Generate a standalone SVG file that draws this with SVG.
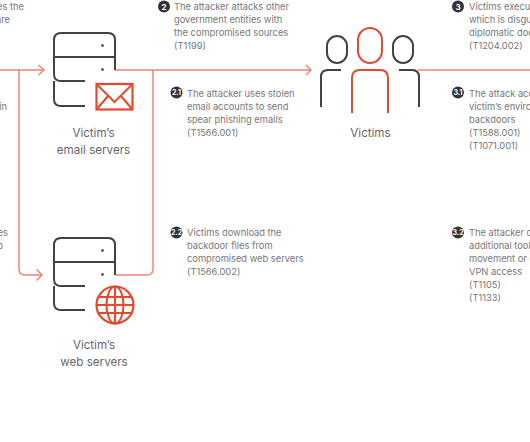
<svg xmlns="http://www.w3.org/2000/svg" width="530" height="442" viewBox="0 0 530 442">
<style>
.t{font-family:"Inter","Liberation Sans",sans-serif;font-size:9.300px;fill:#77777a}
.e{text-anchor:end}
.l{font-family:"Inter","Liberation Sans",sans-serif;font-size:11.600px;fill:#68686b;text-anchor:middle}
.b{fill:#333336}
.n{font-family:"Inter","Liberation Sans",sans-serif;font-size:8px;font-weight:700;fill:#fff;text-anchor:middle}
.s{font-size:7px}
.d{fill:none;stroke:#434345;stroke-width:2;stroke-linecap:butt}
.r{fill:none;stroke:#e4482d;stroke-width:2}
.c{fill:none;stroke:#ee8575;stroke-width:1.500}
</style>
<rect width="530" height="442" fill="#fff"/>
<g id="connectors">
<path class="c" d="M0 70H44M38.500 65L44 70L38.500 75"/>
<path class="c" d="M19 70V269Q19 275 25 275H42M36.500 269.500L42 275L36.500 280.500"/>
<path class="c" d="M115 70H311M306 65L311 70L306 75"/>
<path class="c" d="M153 70V269Q153 275 147 275H115"/>
<path class="c" d="M418 70H530"/>
</g>
<g id="email-servers">
<path class="d" d="M85 81H61Q54 81 54 74V40Q54 33 61 33H108Q115 33 115 40V70M54 57H115M54 81V99Q54 106 61 106H85"/>
<circle cx="102.500" cy="45.500" r="1.300" fill="#333"/><circle cx="102.500" cy="69.500" r="1.300" fill="#333"/>
<rect x="96.500" y="84" width="36" height="25.500" fill="#fff" stroke="#e4482d" stroke-width="2.200"/>
<path class="r" d="M96.500 84L114.500 102L132.500 84M96.500 109.500L108 96M132.500 109.500L121 96"/>
<text class="l" x="93.500" y="137">Victim’s</text><text class="l" x="93.500" y="154">email servers</text>
</g>
<g id="web-servers">
<path class="d" d="M85 286H61Q54 286 54 279V245Q54 238 61 238H108Q115 238 115 245V275M54 262H115M54 286V303Q54 310 61 310H85"/>
<circle cx="102.500" cy="250.500" r="1.300" fill="#333"/><circle cx="102.500" cy="274.500" r="1.300" fill="#333"/>
<circle cx="115" cy="305" r="18.500" fill="#fff" stroke="#e4482d" stroke-width="2.200"/>
<ellipse class="r" cx="115" cy="305" rx="8.500" ry="18.500"/>
<path class="r" d="M115 286.500V323.500M98 297H132M96.500 305H133.500M98 313H132"/>
<text class="l" x="94" y="349">Victim’s</text><text class="l" x="94" y="366">web servers</text>
</g>
<g id="victims">
<rect x="327" y="36" width="20" height="27" rx="10" class="d"/>
<rect x="393" y="36" width="20" height="27" rx="10" class="d"/>
<rect x="358" y="28" width="24" height="35" rx="12" class="r"/>
<path class="d" d="M321 107V77Q321 70 328 70H341M399 70H412Q419 70 419 77V107"/>
<path class="r" d="M352 113V78Q352 70 360 70H380Q388 70 388 78V113"/>
<text class="l" x="370.500" y="137">Victims</text>
</g>
<g id="text-left"><text class="t e" x="24" y="10">es the</text><text class="t e" x="10" y="23">are</text><text class="t e" x="7" y="110">in</text><text class="t e" x="8" y="236">es</text><text class="t e" x="3" y="249">o</text></g>
<g id="step-2"><circle class="b" cx="164" cy="6.500" r="6"/><text class="n" x="164" y="9.500">2</text><text class="t" x="174" y="10">The attacker attacks other</text><text class="t" x="174" y="23">government entities with</text><text class="t" x="174" y="36">the compromised sources</text><text class="t" x="174" y="49">(T1199)</text></g>
<g id="step-2-1"><circle class="b" cx="176.500" cy="92.500" r="6"/><text class="n s" x="176.500" y="95">2.1</text><text class="t" x="187" y="97">The attacker uses stolen</text><text class="t" x="187" y="110">email accounts to send</text><text class="t" x="187" y="123">spear phishing emails</text><text class="t" x="187" y="136">(T1566.001)</text></g>
<g id="step-2-2"><circle class="b" cx="176.500" cy="232.500" r="6"/><text class="n s" x="176.500" y="235">2.2</text><text class="t" x="187" y="236">Victims download the</text><text class="t" x="187" y="249">backdoor files from</text><text class="t" x="187" y="262">compromised web servers</text><text class="t" x="187" y="275">(T1566.002)</text></g>
<g id="step-3"><circle class="b" cx="458" cy="6.500" r="6"/><text class="n" x="458" y="9.500">3</text><text class="t" x="469" y="10">Victims execut</text><text class="t" x="469" y="23">which is disgui</text><text class="t" x="469" y="36">diplomatic doc</text><text class="t" x="469" y="49">(T1204.002)</text></g>
<g id="step-3-1"><circle class="b" cx="458" cy="92.500" r="6"/><text class="n s" x="458" y="95">3.1</text><text class="t" x="469" y="97">The attack acc</text><text class="t" x="469" y="110">victim’s enviro</text><text class="t" x="469" y="123">backdoors</text><text class="t" x="469" y="136">(T1588.001)</text><text class="t" x="469" y="149">(T1071.001)</text></g>
<g id="step-3-2"><circle class="b" cx="458" cy="232.500" r="6"/><text class="n s" x="458" y="235">3.2</text><text class="t" x="469" y="236">The attacker d</text><text class="t" x="469" y="249">additional tool</text><text class="t" x="469" y="262">movement or c</text><text class="t" x="469" y="275">VPN access</text><text class="t" x="469" y="288">(T1105)</text><text class="t" x="469" y="301">(T1133)</text></g>
</svg>
